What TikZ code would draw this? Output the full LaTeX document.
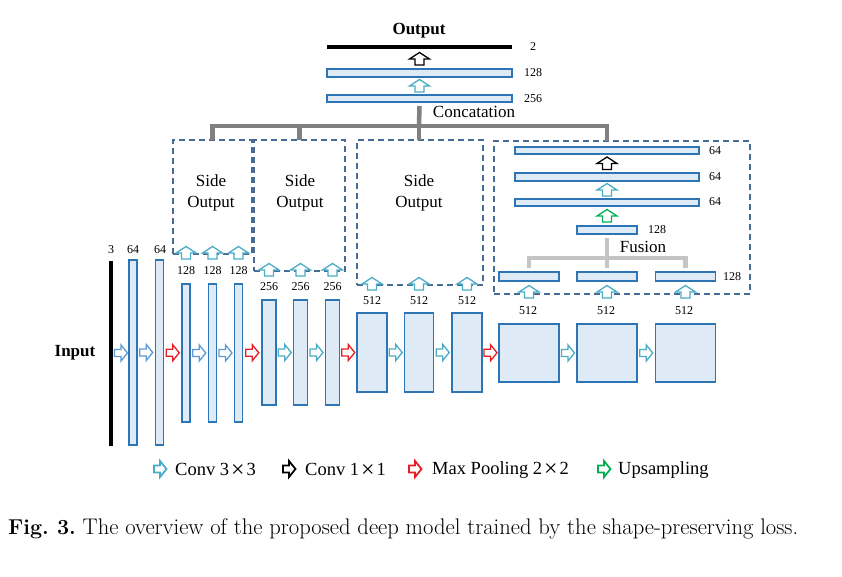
\documentclass[tikz,border=0pt]{standalone}
\usepackage{fontspec}
\newfontfamily\tms{Liberation Serif}
\usetikzlibrary{calc}
\definecolor{barfill}{RGB}{222,235,247}
\definecolor{bardraw}{RGB}{46,117,182}
\definecolor{dashc}{RGB}{70,108,150}
\definecolor{cyanA}{RGB}{75,172,198}
\definecolor{steelA}{RGB}{91,155,213}
\definecolor{redA}{RGB}{232,28,36}
\definecolor{greenA}{RGB}{0,176,80}
\definecolor{cgray}{RGB}{128,128,128}
\definecolor{fgray}{RGB}{196,196,196}
\newcommand{\bigtimes}{\kern2pt\raisebox{-2.2pt}{\fontsize{24}{20}\selectfont ×}\kern2pt}
\frenchspacing
\begin{document}
\begin{tikzpicture}[x=1pt,y=-1pt,
  bar/.style={draw=bardraw, fill=barfill, line width=1.3pt, inner sep=0pt, outer sep=0pt},
  blk/.style={fill=black, inner sep=0pt, outer sep=0pt},
  dbox/.style={draw=dashc, dash pattern=on 6pt off 4pt, line width=1.4pt, inner sep=0pt, outer sep=0pt},
  num/.style={font=\tms\fontsize{12}{12}\selectfont, inner sep=0pt},
  big/.style={font=\tms\fontsize{17}{21}\selectfont, inner sep=0pt, align=center},
  bigb/.style={font=\tms\bfseries\fontsize{17}{21}\selectfont, inner sep=0pt},
  leg/.style={font=\tms\fontsize{18.5}{20}\selectfont, inner sep=0pt, anchor=west},
  concat/.style={draw=cgray, line width=4.5pt},
  fusel/.style={draw=fgray, line width=4.5pt},
  pics/harr/.style={code={\draw[line width=1.3pt, draw=#1, fill=white, line join=miter]
     (-6.5,-3.5) -- (0,-3.5) -- (0,-8) -- (6.5,0) -- (0,8) -- (0,3.5) -- (-6.5,3.5) -- cycle;}},
  pics/legarr/.style={code={\draw[line width=1.8pt, draw=#1, fill=white, line join=miter]
     (-6,-3.5) -- (0,-3.5) -- (0,-8) -- (6.5,0) -- (0,8) -- (0,3.5) -- (-6,3.5) -- cycle;}},
  pics/uarr/.style={code={\draw[line width=1.3pt, draw=#1, fill=white, line join=miter]
     (-4.5,6) -- (-4.5,0) -- (-10,0) -- (0,-6.5) -- (10,0) -- (4.5,0) -- (4.5,6) -- cycle;}}
]
\useasboundingbox (0,0) rectangle (842,577);
\fill[white] (0,0) rectangle (842,577);

% ---------- encoder ----------
\node[blk, minimum width=4pt, minimum height=185pt] (in) at (111,353.5) {};
\node[bar, minimum width=8pt, minimum height=185pt] (b1) at (133,352.5) {};
\node[bar, minimum width=8pt, minimum height=185pt] (b2) at (159.5,352.5) {};
\node[bar, minimum width=8pt, minimum height=138pt] (c1) at (186,353) {};
\node[bar, minimum width=8pt, minimum height=138pt] (c2) at (212.5,353) {};
\node[bar, minimum width=8pt, minimum height=138pt] (c3) at (238.5,353) {};
\node[bar, minimum width=14pt, minimum height=105pt] (d1) at (269,352.5) {};
\node[bar, minimum width=14pt, minimum height=105pt] (d2) at (300.5,352.5) {};
\node[bar, minimum width=14pt, minimum height=105pt] (d3) at (332.5,352.5) {};
\node[bar, minimum width=30pt, minimum height=79pt] (e1) at (372,352.5) {};
\node[bar, minimum width=29pt, minimum height=79pt] (e2) at (419,352.5) {};
\node[bar, minimum width=30pt, minimum height=79pt] (e3) at (467,352.5) {};
\node[bar, minimum width=60pt, minimum height=58pt] (f1) at (529,353) {};
\node[bar, minimum width=60pt, minimum height=58pt] (f2) at (607,353) {};
\node[bar, minimum width=60pt, minimum height=58pt] (f3) at (685.5,353) {};

\node[bigb] (inlbl) at (75,353) {Input};

% labels
\node[num] (l3) at (111,250) {3};
\node[num] (l64a) at (133,250) {64};
\node[num] (l64b) at (160,250) {64};
\node[num] (l128a) at (186,271) {128};
\node[num] (l128b) at (212.5,271) {128};
\node[num] (l128c) at (238.5,271) {128};
\node[num] (l256a) at (269,287) {256};
\node[num] (l256b) at (300.5,287) {256};
\node[num] (l256c) at (332.5,287) {256};
\node[num] (l512a) at (372,301) {512};
\node[num] (l512b) at (419,301) {512};
\node[num] (l512c) at (467,301) {512};
\node[num] (l512d) at (528,311) {512};
\node[num] (l512e) at (606,311) {512};
\node[num] (l512f) at (684,311) {512};

% horizontal arrows
\pic at ($(in.east)!0.5!(b1.west)$) {harr=steelA};
\pic at ($(b1.east)!0.5!(b2.west)$) {harr=steelA};
\pic at ($(b2.east)!0.5!(c1.west)$) {harr=redA};
\pic at ($(c1.east)!0.5!(c2.west)$) {harr=steelA};
\pic at ($(c2.east)!0.5!(c3.west)$) {harr=steelA};
\pic at ($(c3.east)!0.5!(d1.west)$) {harr=redA};
\pic at ($(d1.east)!0.5!(d2.west)$) {harr=cyanA};
\pic at ($(d2.east)!0.5!(d3.west)$) {harr=cyanA};
\pic at ($(d3.east)!0.5!(e1.west)$) {harr=redA};
\pic at ($(e1.east)!0.5!(e2.west)$) {harr=cyanA};
\pic at ($(e2.east)!0.5!(e3.west)$) {harr=cyanA};
\pic at ($(e3.east)!0.5!(f1.west)$) {harr=redA};
\pic at ($(f1.east)!0.5!(f2.west)$) {harr=cyanA};
\pic at ($(f2.east)!0.5!(f3.west)$) {harr=cyanA};

% ---------- side output boxes ----------
\node[dbox, minimum width=79pt, minimum height=114pt] (S1) at (212.5,197) {};
\node[dbox, minimum width=91pt, minimum height=131pt] (S2) at (299.5,205.5) {};
\node[dbox, minimum width=126pt, minimum height=145pt] (S3) at (420,212.5) {};
\node[dbox, minimum width=256pt, minimum height=153pt] (F) at (622,217.5) {};

\node[big] (so1) at (211,192.5) {Side\\Output};
\node[big] (so2) at (300,192.5) {Side\\Output};
\node[big] (so3) at (419,192.5) {Side\\Output};

\pic at ([yshift=1pt]c1 |- S1.south) {uarr=cyanA};
\pic at ([yshift=1pt]c2 |- S1.south) {uarr=cyanA};
\pic at ([yshift=1pt]c3 |- S1.south) {uarr=cyanA};
\pic at ([yshift=1pt]d1 |- S2.south) {uarr=cyanA};
\pic at ([yshift=1pt]d2 |- S2.south) {uarr=cyanA};
\pic at ([yshift=1pt]d3 |- S2.south) {uarr=cyanA};
\pic at ([yshift=1pt]e1 |- S3.south) {uarr=cyanA};
\pic at ([yshift=1pt]e2 |- S3.south) {uarr=cyanA};
\pic at ([yshift=1pt]e3 |- S3.south) {uarr=cyanA};
\pic at ([yshift=2pt]f1 |- F.south) {uarr=cyanA};
\pic at ([yshift=2pt]f2 |- F.south) {uarr=cyanA};
\pic at ([yshift=2pt]f3 |- F.south) {uarr=cyanA};

% ---------- fusion block ----------
\node[bar, minimum width=60pt, minimum height=9pt] (h1) at (529,276.5) {};
\node[bar, minimum width=60pt, minimum height=9pt] (h2) at (607,276.5) {};
\node[bar, minimum width=60pt, minimum height=9pt] (h3) at (685.5,276.5) {};
\node[num] (lh) at (732,277) {128};
\node[bar, minimum width=60pt, minimum height=8pt] (g128) at (607,230) {};
\node[num] (lg128) at (657,230) {128};
\node[bar, minimum width=184pt, minimum height=7pt] (g64c) at (607,202.5) {};
\node[bar, minimum width=184pt, minimum height=8pt] (g64b) at (607,177) {};
\node[bar, minimum width=184pt, minimum height=7pt] (g64a) at (607,150.5) {};
\node[num] (lg64c) at (715,202) {64};
\node[num] (lg64b) at (715,177) {64};
\node[num] (lg64a) at (715,151) {64};
\pic at ($(g128.north)!0.5!(g64c.south)$) {uarr=greenA};
\pic at ($(g64c.north)!0.5!(g64b.south)$) {uarr=cyanA};
\pic at ($(g64b.north)!0.5!(g64a.south)$) {uarr=black};

\coordinate (fj) at (607,258);
\draw[fusel] ([yshift=4pt]h1.north) -- (h1.north |- fj) -- (h3.north |- fj) -- ([yshift=4pt]h3.north);
\draw[fusel] ([yshift=4pt]h2.north) -- (fj) -- ([yshift=-4pt]g128.south);
\node[big] (fus) at (643,247) {Fusion};

% ---------- top output ----------
\node[bigb] (outlbl) at (419,31) {Output};
\node[blk, minimum width=185pt, minimum height=4pt] (t2) at (419.5,47) {};
\node[bar, minimum width=185pt, minimum height=8pt] (t128) at (419.5,73) {};
\node[bar, minimum width=185pt, minimum height=7pt] (t256) at (419.5,98.5) {};
\node[num] (lt2) at (533,47) {2};
\node[num] (lt128) at (533,73) {128};
\node[num] (lt256) at (533,99) {256};
\pic at ($(t128.north)!0.5!(t2.south)$) {uarr=black};
\pic at ($(t256.north)!0.5!(t128.south)$) {uarr=cyanA};
\node[big] (conc) at (474,112) {Concatation};

\coordinate (cj) at (419,126);
\draw[concat, line join=miter] (S1.north) -- (S1.north |- cj) -- (g64a.north |- cj) -- (g64a.north |- F.north);
\draw[concat] (S2.north) -- (S2.north |- cj);
\draw[concat] (S3.north -| cj) -- (cj);
\draw[concat] ([yshift=-4pt]t256.south) -- (cj);

% ---------- legend ----------
\pic at (160,469) {legarr=cyanA};
\node[leg] (lg1) at (175,470) {Conv 3\bigtimes3};
\pic at (289,469) {legarr=black};
\node[leg] (lg2) at (305,470) {Conv 1\bigtimes1};
\pic at (415,469) {legarr=redA};
\node[leg] (lg3) at (432,470) {Max Pooling 2\bigtimes2};
\pic at (604,469) {legarr=greenA};
\node[leg] (lg4) at (618,470) {Upsampling};

% ---------- caption ----------
\node[anchor=west, inner sep=0pt, font=\fontsize{22.6}{26}\selectfont] (cap) at (8,529)
  {{\fontsize{21.5}{26}\selectfont\textbf{Fig.\ 3.}} The overview of the proposed deep model trained by the shape-preserving loss.};
\end{tikzpicture}
\end{document}
